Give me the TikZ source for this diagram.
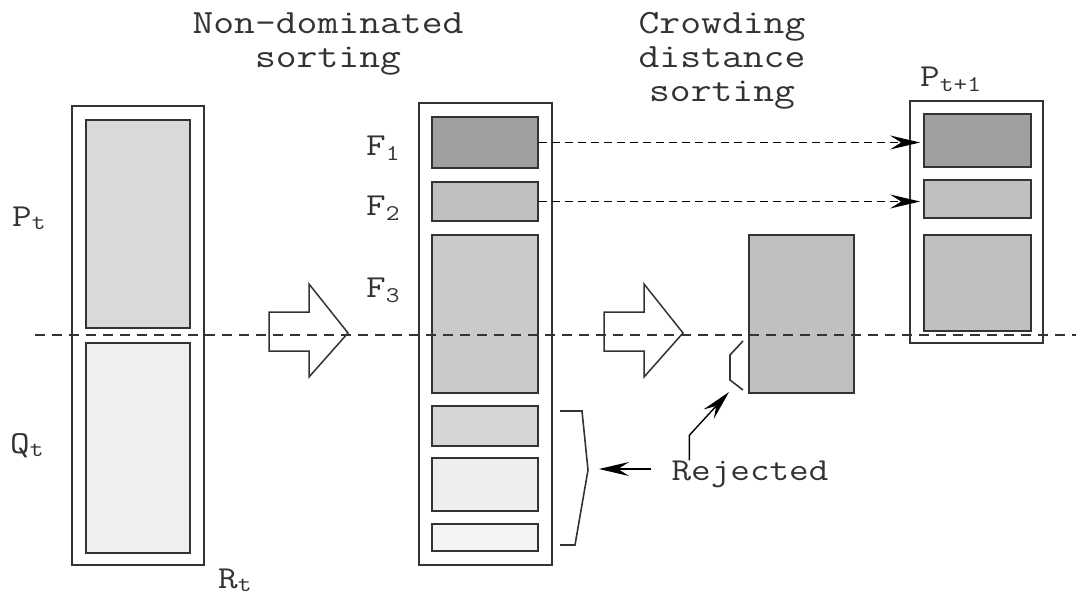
\documentclass[tikz,border=0pt]{standalone}
\usepackage{fontspec}
\newfontfamily\diagfont{Latin Modern Mono}[FakeStretch=1.19]
\usetikzlibrary{positioning, arrows.meta, calc}
\definecolor{lineGray}{HTML}{333333}
\definecolor{frontA}{HTML}{A0A0A0}
\definecolor{frontB}{HTML}{C0C0C0}
\definecolor{frontC}{HTML}{CACACA}
\definecolor{frontD}{HTML}{D6D6D6}
\definecolor{frontE}{HTML}{EEEEEE}
\definecolor{frontF}{HTML}{F3F3F3}
\definecolor{parentFill}{HTML}{D9D9D9}
\definecolor{childFill}{HTML}{EFEFEF}

\begin{document}
\begin{tikzpicture}[
    x=1pt, y=-1pt,
    every node/.style={font=\diagfont\fontsize{34}{34}\selectfont, text=lineGray, align=center},
    outerbox/.style={
        rectangle, draw=lineGray, line width=1.5pt, inner sep=0pt
    },
    frontbox/.style={
        rectangle, draw=lineGray, line width=1.8pt, inner sep=0pt
    },
    setlabel/.style={font=\diagfont\fontsize{32}{32}\selectfont, anchor=base west, inner sep=0pt},
    arrow/.style={-{Stealth[length=30pt,width=14pt,inset=11pt]}, line width=1.4pt, draw=black},
    dasharrow/.style={arrow, dash pattern=on 8pt off 5pt},
    hollowarrow/.style={draw=lineGray, line width=1.5pt, line join=miter},
    bracket/.style={draw=lineGray, line width=1.6pt},
]
\useasboundingbox (0,0) rectangle (1076,597);

% === R_t = P_t + Q_t ===
\node[outerbox, minimum width=132, minimum height=459] (rt) at (138,335.5) {};
\node[frontbox, fill=parentFill, minimum width=104, minimum height=208] (pt) at (138,224) {};
\node[frontbox, fill=childFill, minimum width=104, minimum height=210] (qt) at (138,448) {};

% === FRONTS F1 ... F6 ===
\node[outerbox, minimum width=133, minimum height=462] (fronts) at (485.5,334) {};
\node[frontbox, fill=frontA, minimum width=106, minimum height=51] (f1) at (485,142.5) {};
\node[frontbox, fill=frontB, minimum width=106, minimum height=39] (f2) at (485,201.5) {};
\node[frontbox, fill=frontC, minimum width=106, minimum height=158] (f3) at (485,314) {};
\node[frontbox, fill=frontD, minimum width=106, minimum height=40] (f4) at (485,426) {};
\node[frontbox, fill=frontE, minimum width=106, minimum height=53] (f5) at (485,484.5) {};
\node[frontbox, fill=frontF, minimum width=106, minimum height=27] (f6) at (485,537.5) {};

% === F3 after crowding distance sorting ===
\node[frontbox, fill=frontB, minimum width=105, minimum height=158] (f3sort) at (801.5,314) {};

% === P_{t+1} ===
\node[outerbox, minimum width=133, minimum height=242] (pnext) at (976.5,222) {};
\node[frontbox, fill=frontA, minimum width=107, minimum height=53] (q1) at (977.5,140.5) {};
\node[frontbox, fill=frontB, minimum width=107, minimum height=38] (q2) at (977.5,199) {};
\node[frontbox, fill=frontB, minimum width=107, minimum height=96] (q3) at (977.5,283) {};

% === HOLLOW ARROWS ===
\foreach \ax in {269,604}
    \draw[hollowarrow] (\ax,312) -- ++(40,0) -- ++(0,-28) -- (\ax+79,333)
        -- (\ax+40,377) -- ++(0,-26) -- (\ax,351) -- cycle;

% === TITLES ===
\node[anchor=base] (ndsort) at (328,67) {Non-dominated\\sorting};
\node[anchor=base] (cdsort) at (722,101) {Crowding\\distance\\sorting};

% === LABELS ===
\node[setlabel] (ptlabel) at (12,226) {P\textsubscript{t}};
\node[setlabel] (qtlabel) at (10,453) {Q\textsubscript{t}};
\node[setlabel] (rtlabel) at (218,588) {R\textsubscript{t}};
\node[setlabel] (f1label) at (366,155) {F\textsubscript{1}};
\node[setlabel] (f2label) at (366,215) {F\textsubscript{2}};
\node[setlabel] (f3label) at (366,297) {F\textsubscript{3}};
\node[setlabel] (pnextlabel) at (920,86) {P\textsubscript{t+1}};
\node[font=\diagfont\fontsize{32}{32}\selectfont, anchor=base, inner sep=0pt] (rej) at (750,480) {Rejected};

% === F1, F2 copied into P_{t+1} ===
\draw[dasharrow] (f1.east) -- ([xshift=-3pt]f1.east -| q1.west);
\draw[dasharrow] (f2.east) -- ([xshift=-3pt]f2.east -| q2.west);

% === REJECTED BRACKETS ===
\draw[bracket] (560,411) -- (582,411) -- (588,470) -- (575,545) -- (560,545);
\draw[bracket] (743,341) -- (730,355) -- (730,380) -- (743,390);
\coordinate (bracetip) at (599,469);
\coordinate (cuttip) at (729,392);
\draw[arrow] ([xshift=-20pt]rej.west |- bracetip) -- (bracetip);
\draw[arrow] ([xshift=18pt]rej.north west) -- ++(0,-25) -- (cuttip);

% === P_t / Q_t SPLIT ===
\draw[draw=lineGray, line width=1.4pt, dash pattern=on 10pt off 7pt] (35,335) -- (1076,335);
\end{tikzpicture}
\end{document}
